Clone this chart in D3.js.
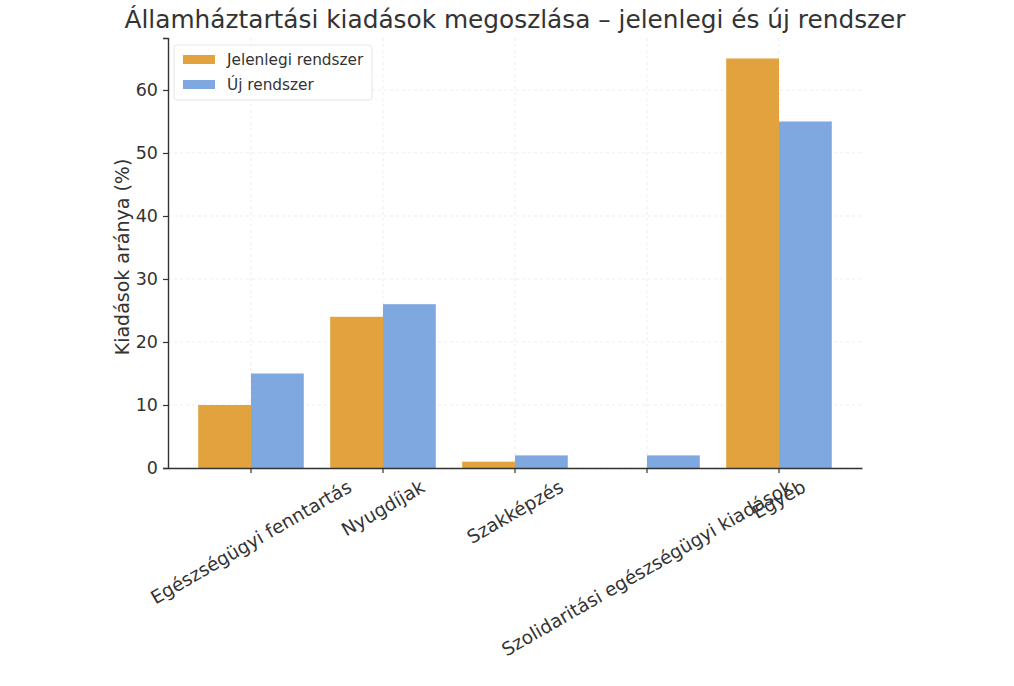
<!DOCTYPE html>
<html><head><meta charset="utf-8">
<script src="https://cdn.jsdelivr.net/npm/d3@7"></script>
<style>
html,body{margin:0;padding:0;background:#fff;}
text{font-family:"DejaVu Sans",sans-serif;}
</style></head>
<body>
<svg id="chart" width="1014" height="686"></svg>
<script>
const categories = ["Egészségügyi fenntartás","Nyugdíjak","Szakképzés","Szolidaritási egészségügyi kiadások","Egyéb"];
const seriesNames = ["Jelenlegi rendszer","Új rendszer"];
const currentValues = [10, 24, 1, 0, 65];
const newValues = [15, 26, 2, 2, 55];
const yTicks = [0, 10, 20, 30, 40, 50, 60];
const colors = ["#e2a23e", "#7fa7e0"];
const titleText = "Államháztartási kiadások megoszlása – jelenlegi és új rendszer";
const yLabel = "Kiadások aránya (%)";

(function(){
const svg = d3.select("#chart");
const mLeft = 168, mRight = 862, mTop = 38, mBottom = 468;
const textColor = "#333";

const x = d3.scaleBand().domain(categories).range([mLeft, mRight]).paddingInner(0.2).paddingOuter(0.2288);
const xs = d3.scaleBand().domain(seriesNames).range([0, x.bandwidth()]).padding(0);
const y = d3.scaleLinear().domain([0, 68.25]).range([mBottom, mTop]);

// grid
const grid = svg.append("g");
grid.selectAll("line.h").data(yTicks).enter().append("line")
  .attr("x1", mLeft).attr("x2", mRight)
  .attr("y1", d => y(d)).attr("y2", d => y(d))
  .attr("stroke", "#ededed").attr("stroke-width", 1).attr("stroke-dasharray", "3,3");
grid.selectAll("line.v").data(categories).enter().append("line")
  .attr("x1", d => x(d) + x.bandwidth()/2).attr("x2", d => x(d) + x.bandwidth()/2)
  .attr("y1", mTop).attr("y2", mBottom)
  .attr("stroke", "#ededed").attr("stroke-width", 1).attr("stroke-dasharray", "3,3");

// bars
const series = [currentValues, newValues];
series.forEach((vals, si) => {
  svg.append("g").selectAll("rect").data(categories).enter().append("rect")
    .attr("x", d => x(d) + xs(seriesNames[si]))
    .attr("width", xs.bandwidth())
    .attr("y", (d, i) => y(vals[i]))
    .attr("height", (d, i) => y(0) - y(vals[i]))
    .attr("fill", colors[si]);
});

// y axis
const yAxis = svg.append("g").attr("transform", `translate(${mLeft},0)`)
  .call(d3.axisLeft(y).tickValues(yTicks).tickSize(5).tickPadding(5));
yAxis.select(".domain").attr("stroke", textColor).attr("stroke-width", 1.4);
yAxis.selectAll(".tick line").attr("stroke", textColor).attr("stroke-width", 1.2);
yAxis.selectAll(".tick text").attr("fill", textColor).style("font-size", "17.5px").style("font-family", "DejaVu Sans");

// x axis
const xAxis = svg.append("g").attr("transform", `translate(0,${mBottom})`)
  .call(d3.axisBottom(x).tickSize(5).tickSizeOuter(0).tickFormat(""));
xAxis.select(".domain").attr("stroke", textColor).attr("stroke-width", 1.4);
xAxis.selectAll(".tick line").attr("stroke", textColor).attr("stroke-width", 1.2);

// rotated x labels (bbox centred on tick)
const labG = svg.append("g");
const fs = 18.5;
categories.forEach(c => {
  const t = labG.append("text").text(c)
    .attr("text-anchor", "middle").attr("dominant-baseline", "central")
    .attr("fill", textColor).style("font-size", fs + "px");
  const w = t.node().getComputedTextLength();
  const bh = w * Math.sin(Math.PI/6) + fs * Math.cos(Math.PI/6);
  const cx = x(c) + x.bandwidth()/2;
  const cy = mBottom + 9 + bh/2;
  t.attr("transform", `translate(${cx},${cy}) rotate(-30)`);
});

// y label
svg.append("text").text(yLabel)
  .attr("transform", `translate(122,${(mTop+mBottom)/2 + 4}) rotate(-90)`)
  .attr("text-anchor", "middle").attr("dominant-baseline", "central")
  .attr("fill", textColor).style("font-size", "19px");

// title
svg.append("text").text(titleText)
  .attr("x", (mLeft+mRight)/2).attr("y", 28)
  .attr("text-anchor", "middle").attr("fill", textColor).style("font-size", "24.8px");

// legend
const lg = svg.append("g");
lg.append("rect").attr("x", 174).attr("y", 45).attr("width", 198).attr("height", 55)
  .attr("rx", 3).attr("fill", "#fff").attr("fill-opacity", 0.8)
  .attr("stroke", "#e6e6e6").attr("stroke-width", 1);
seriesNames.forEach((n, i) => {
  lg.append("rect").attr("x", 183).attr("y", 55 + i*25).attr("width", 32).attr("height", 9)
    .attr("fill", colors[i]);
  lg.append("text").text(n).attr("x", 227).attr("y", 60 + i*25)
    .attr("dominant-baseline", "central").attr("fill", textColor).style("font-size", "15.3px");
});
})();
</script>
</body></html>
